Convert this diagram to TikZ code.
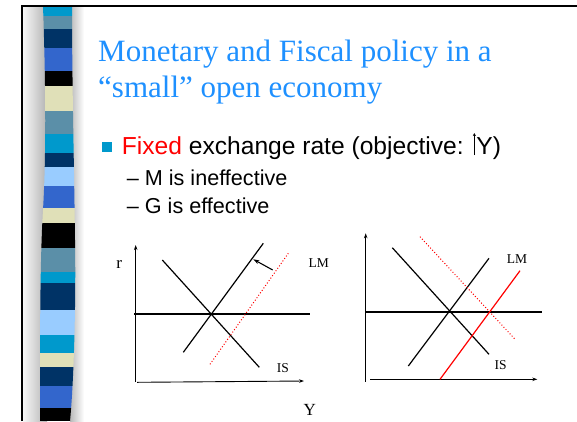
\documentclass[tikz,border=0pt]{standalone}
\usepackage{fontspec}
\setmainfont{Liberation Serif}
\setsansfont{Liberation Sans}
\usetikzlibrary{arrows.meta,positioning}
\definecolor{Cyan}{HTML}{0099CC}
\definecolor{Steel}{HTML}{5B8FA8}
\definecolor{Navy}{HTML}{003366}
\definecolor{Royal}{HTML}{3366CC}
\definecolor{Beige}{HTML}{E0E0B8}
\definecolor{Sky}{HTML}{99CCFF}
\definecolor{TitleBlue}{HTML}{1E90FF}

\begin{document}
\begin{tikzpicture}[x=1pt,y=-1pt,
    axis/.style={-{Stealth[length=5pt,width=3.5pt]},line width=0.9pt},
    curve/.style={line width=1.2pt},
    shiftdot/.style={red,dotted,line width=1pt},
    lab/.style={inner sep=0pt,anchor=base west,font=\fontsize{13.5}{14}\selectfont},
    big/.style={inner sep=0pt,anchor=base west,font=\fontsize{17}{18}\selectfont},
    ttl/.style={inner sep=0pt,anchor=base west,text=TitleBlue,font=\fontsize{31}{36}\selectfont},
    txt/.style={inner sep=0pt,anchor=base west,font=\sffamily\fontsize{#1}{#1}\selectfont}
  ]
  \useasboundingbox (0,0) rectangle (577,421);
  % side bar
  \shade[left color=gray!6,right color=gray!60] (23,6) rectangle (47,421);
  \shade[left color=gray!55,right color=white] (70,6) rectangle (84,421);
  \begin{scope}
    \clip (43,6) .. controls (46,90) and (46,160) .. (43,210)
      .. controls (40,260) and (40,330) .. (40,421) -- (70,421)
      .. controls (74,380) and (76,300) .. (75,240)
      .. controls (74,160) and (72,80) .. (72,6) -- cycle;
    \foreach \ya/\yb/\col in {6/16/Cyan,16/29.3/Steel,29.3/48.3/Navy,48.3/70.7/Royal,
        70.7/86/black,86/111/Beige,111/134/Steel,134/152.7/Cyan,152.7/167.3/Navy,
        167.3/185.7/Sky,185.7/208.3/Royal,208.3/222.7/Beige,222.7/248.3/black,
        248.3/271.7/Steel,271.7/283.3/Cyan,283.3/310/Navy,310/335/Sky,335/352.7/Cyan,
        352.7/367.3/Beige,367.3/386/Navy,386/408.3/Royal,408.3/421/black}
      \fill[\col] (35,\ya) rectangle (80,\yb);
  \end{scope}
  \draw[line width=1.6pt] (22,421) -- (22,6) -- (577,6);

  \node[ttl] (ttl1) at (98,61.7) {Monetary and Fiscal policy in a};
  \node[ttl] (ttl2) at (98,97.7) {``small'' open economy};
  \node[fill=Cyan,minimum size=10pt,inner sep=0pt] (sq) at (106.7,146.7) {};
  \node[txt=24.6] (bul) at (121.7,154) {\textcolor{red}{Fixed} exchange rate (objective:
    \tikz[baseline=0pt]\draw[-{Stealth[length=3pt,width=3pt]},line width=0.5pt] (0pt,-1pt)--(0pt,21pt);\hspace{0.5pt}Y)};
  \node[txt=21.6] (sub1) at (126.7,185) {\textendash\ M is ineffective};
  \node[txt=21.6] (sub2) at (126.7,213.3) {\textendash\ G is effective};

  % left diagram
  \draw[axis] (135.7,382) -- (135.7,245);
  \draw[axis] (137,382.3) -- (304,381);
  \draw[line width=2pt] (134,314) -- (310,314);
  \draw[curve] (162.3,260) -- (259.3,367.3);
  \draw[curve] (183.3,352.3) -- (263.3,243.3);
  \draw[shiftdot] (210,364.3) -- (288.3,253.3);
  \coordinate (from1) at (272.7,270);
  \coordinate (to1) at (253.3,259.3);
  \draw[-{Stealth[length=6pt,width=4pt]},line width=1.1pt] (from1) -- (to1);
  \node[big,anchor=base] (r1) at (119.3,268) {r};
  \node[lab] (lm1) at (308.3,267.3) {LM};
  \node[lab] (is1) at (276.7,372.7) {IS};
  \node[big] (y1) at (303.3,415) {Y};

  % right diagram
  \draw[axis] (365.7,381.7) -- (365.7,233.3);
  \draw[axis] (370,379.3) -- (537.3,379.3);
  \draw[line width=2pt] (366,312.3) -- (541.7,312.3);
  \draw[curve] (392.3,247.7) -- (489,354.3);
  \draw[curve] (408.3,366) -- (489,258.3);
  \draw[curve,red] (440,379.3) -- (520,270.7);
  \draw[shiftdot] (420,236.7) -- (515.7,340);
  \node[lab] (lm2) at (506.7,263.3) {LM};
  \node[lab] (is2) at (494.3,369) {IS};
\end{tikzpicture}
\end{document}
